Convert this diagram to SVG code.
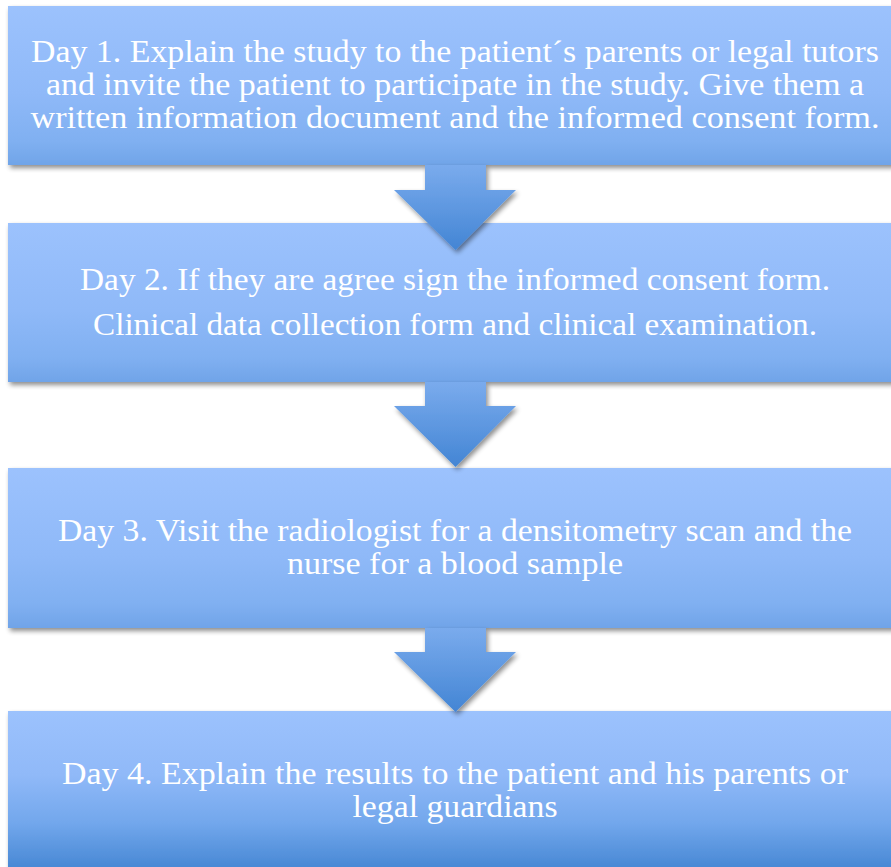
<svg xmlns="http://www.w3.org/2000/svg" width="891" height="867" viewBox="0 0 891 867">
<defs>
<linearGradient id="boxg" x1="0" y1="0" x2="0" y2="1">
<stop offset="0" stop-color="#9cc2fd"/>
<stop offset="0.55" stop-color="#8fb9f8"/>
<stop offset="0.85" stop-color="#80b0f1"/>
<stop offset="1" stop-color="#70a4e8"/>
</linearGradient>
<linearGradient id="boxg4" x1="0" y1="0" x2="0" y2="1">
<stop offset="0" stop-color="#9cc2fd"/>
<stop offset="0.4" stop-color="#90b9f8"/>
<stop offset="0.7" stop-color="#72a7ec"/>
<stop offset="1" stop-color="#4586d3"/>
</linearGradient>
<linearGradient id="arrg" x1="0" y1="0" x2="0" y2="1">
<stop offset="0" stop-color="#7aabed"/>
<stop offset="1" stop-color="#4385d4"/>
</linearGradient>
<filter id="sh" x="-5%" y="-10%" width="115%" height="130%">
<feGaussianBlur in="SourceAlpha" stdDeviation="2.5"/>
<feOffset dx="2" dy="3" result="b"/>
<feComponentTransfer><feFuncA type="linear" slope="0.45"/></feComponentTransfer>
<feMerge><feMergeNode/><feMergeNode in="SourceGraphic"/></feMerge>
</filter>
</defs>
<style>
.box{fill:url(#boxg);filter:url(#sh)}
.t{font-family:"Liberation Serif","Times New Roman",serif;font-size:31px;fill:#ffffff;text-anchor:middle}
.arr{fill:url(#arrg);filter:url(#sh)}
</style>
<rect width="891" height="867" fill="#ffffff"/>
<g id="node1">
<rect class="box" x="8" y="6" width="900" height="159"/>
<text class="t" x="455" y="62" textLength="848" lengthAdjust="spacingAndGlyphs">Day 1. Explain the study to the patient´s parents or legal tutors</text>
<text class="t" x="455" y="95" textLength="818" lengthAdjust="spacingAndGlyphs">and invite the patient to participate in the study. Give them a</text>
<text class="t" x="455" y="128" textLength="849" lengthAdjust="spacingAndGlyphs">written information document and the informed consent form.</text>
</g>
<g id="node2">
<rect class="box" x="8" y="223" width="900" height="159"/>
<text class="t" x="455" y="290" textLength="750" lengthAdjust="spacingAndGlyphs">Day 2. If they are agree sign the informed consent form.</text>
<text class="t" x="455" y="335" textLength="724" lengthAdjust="spacingAndGlyphs">Clinical data collection form and clinical examination.</text>
</g>
<g id="node3">
<rect class="box" x="8" y="468" width="900" height="160"/>
<text class="t" x="455" y="541" textLength="794" lengthAdjust="spacingAndGlyphs">Day 3. Visit the radiologist for a densitometry scan and the</text>
<text class="t" x="455" y="574" textLength="336" lengthAdjust="spacingAndGlyphs">nurse for a blood sample</text>
</g>
<g id="node4">
<rect x="8" y="711" width="900" height="160" fill="url(#boxg4)" filter="url(#sh)"/>
<text class="t" x="455" y="784" textLength="786" lengthAdjust="spacingAndGlyphs">Day 4. Explain the results to the patient and his parents or</text>
<text class="t" x="455" y="817" textLength="205" lengthAdjust="spacingAndGlyphs">legal guardians</text>
</g>
<g id="connectors">
<polygon class="arr" points="425,165 486,165 486,190 516,190 455.5,250 394,190 425,190"/>
<polygon class="arr" points="425,382 486,382 486,406 516,406 455.5,467 394,406 425,406"/>
<polygon class="arr" points="425,628 486,628 486,652 516,652 455.5,712 394,652 425,652"/>
</g>
</svg>
